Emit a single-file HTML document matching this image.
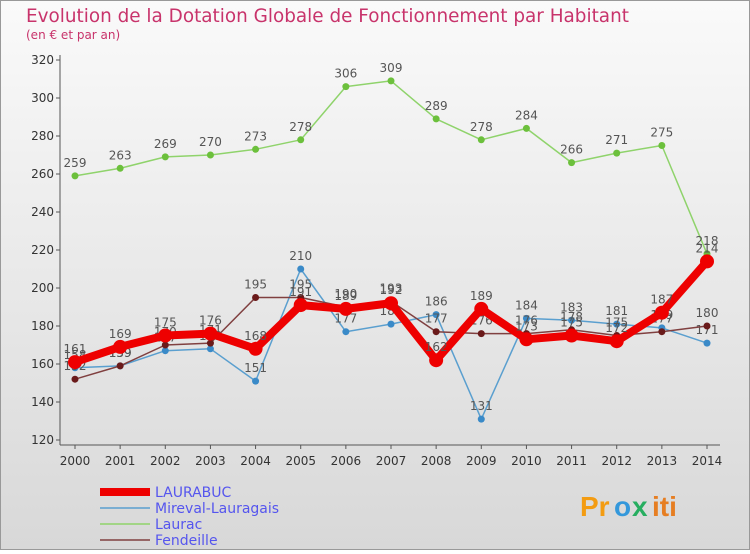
<!DOCTYPE html>
<html><head><meta charset="utf-8"><style>
body{margin:0;width:750px;height:550px;overflow:hidden;font-family:"DejaVu Sans","Liberation Sans",sans-serif}
</style></head><body>
<svg width="750" height="550" xmlns="http://www.w3.org/2000/svg">
<defs>
<linearGradient id="bg" x1="0" y1="0" x2="0" y2="1"><stop offset="0" stop-color="#fafafa"/><stop offset="1" stop-color="#d8d8d8"/></linearGradient>
</defs>
<rect width="750" height="550" fill="url(#bg)"/>
<rect x="0.5" y="0.5" width="749" height="549" fill="none" stroke="#999"/>
<text x="26" y="22" font-size="18.4" fill="#c8336b">Evolution de la Dotation Globale de Fonctionnement par Habitant</text>
<text x="26" y="39" font-size="12" fill="#c8336b">(en € et par an)</text>
<g id="axes"></g>
<g id="series"></g>
<g id="legend"></g>
<g font-size="28" font-weight="bold" font-family="Liberation Sans,sans-serif">
<text x="580" y="516" fill="#f39c12">Pr</text><text x="614" y="516" fill="#3498db">o</text><text x="632" y="516" fill="#27ae60">x</text><text x="652" y="516" fill="#e67e22">iti</text>
</g>
</svg>
<script>
const years=[2000,2001,2002,2003,2004,2005,2006,2007,2008,2009,2010,2011,2012,2013,2014];
const yTicks=[120,140,160,180,200,220,240,260,280,300,320];
const laurabuc=[161,169,175,176,168,191,189,192,162,189,173,175,172,187,214];
const mireval=[158,159,167,168,151,210,177,181,186,131,184,183,181,179,171];
const laurac=[259,263,269,270,273,278,306,309,289,278,284,266,271,275,218];
const fendeille=[152,159,170,171,195,195,190,193,177,176,176,178,175,177,180];
const NS='http://www.w3.org/2000/svg';
const xS=i=>75+i*(632/14);
const yS=v=>440-(v-120)*1.9;
function mk(t,a,p){const e=document.createElementNS(NS,t);for(const k in a)e.setAttribute(k,a[k]);p.appendChild(e);return e;}
const ax=document.getElementById('axes');
let l=mk('line',{x1:60,y1:55,x2:60,y2:445,stroke:'#555'},ax);


l=mk('line',{x1:60,y1:445,x2:720,y2:445,stroke:'#555'},ax);


yTicks.forEach(v=>{const t=mk('text',{x:54,y:yS(v)+4,'font-size':12,'text-anchor':'end',fill:'#333'},ax);t.textContent=v;


mk('line',{x1:56,y1:yS(v),x2:60,y2:yS(v),stroke:'#555'},ax);});
years.forEach((y,i)=>{const t=mk('text',{x:xS(i),y:465,'font-size':12,'text-anchor':'middle',fill:'#333'},ax);t.textContent=y;


mk('line',{x1:xS(i),y1:445,x2:xS(i),y2:449,stroke:'#555'},ax);});
const sg=document.getElementById('series');
const defs=[
 {name:'laurac',d:laurac,c:'#8fd36b',dot:'#6cc03c',w:1.5,r:3.5,label:'Laurac'},
 {name:'mireval-lauragais',d:mireval,c:'#5a9fcf',dot:'#3a8ac8',w:1.5,r:3.5,label:'Mireval-Lauragais'},
 {name:'fendeille',d:fendeille,c:'#804040',dot:'#6a1a1a',w:1.5,r:3.5,label:'Fendeille'},
 {name:'laurabuc',d:laurabuc,c:'#ee0000',dot:'#ee0000',w:8,r:7,label:'LAURABUC'}];
defs.forEach(s=>{
 const g=mk('g',{},sg);
 
 
 const p=mk('polyline',{points:s.d.map((v,i)=>xS(i)+','+yS(v)).join(' '),fill:'none',stroke:s.c,'stroke-width':s.w,'stroke-linejoin':'round'},g);
 
 
 s.d.forEach((v,i)=>{
  const c=mk('circle',{cx:xS(i),cy:yS(v),r:s.r,fill:s.dot},g);
  
  
  const t=mk('text',{x:xS(i),y:yS(v)-9,'font-size':12,'text-anchor':'middle',fill:'#555'},g);
  t.textContent=v;
  
  
 });
});
const lg=document.getElementById('legend');
[defs[3],defs[1],defs[0],defs[2]].forEach((s,i)=>{
 const y=492+i*16;
 const ln=mk('line',{x1:100,y1:y,x2:150,y2:y,stroke:s.c,'stroke-width':s.w},lg);
 
 
 const t=mk('text',{x:155,y:y+5,'font-size':14,fill:'#5555ee'},lg);
 t.textContent=s.label;
 
 
});
</script>
</body></html>
